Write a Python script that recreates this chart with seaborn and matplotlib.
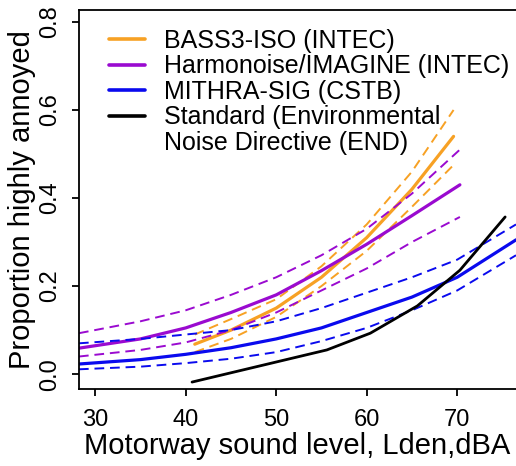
import matplotlib
matplotlib.use("Agg")
import matplotlib.pyplot as plt
import seaborn as sns
import pandas as pd
from matplotlib.lines import Line2D

# BASS3-ISO (INTEC)
bass_x = [41, 45, 50, 55, 60, 65, 69.6]
bass_y = [0.068, 0.10, 0.15, 0.22, 0.31, 0.42, 0.54]
bass_hi = [0.09, 0.125, 0.17, 0.245, 0.34, 0.46, 0.60]
bass_lo = [0.05, 0.08, 0.13, 0.20, 0.28, 0.38, 0.475]

# Harmonoise/IMAGINE (INTEC)
harm_x = [28.2, 35, 40, 45, 50, 55, 60, 65, 70.3]
harm_y = [0.059, 0.08, 0.105, 0.14, 0.18, 0.235, 0.295, 0.36, 0.43]
harm_hi = [0.093, 0.12, 0.145, 0.18, 0.22, 0.27, 0.33, 0.41, 0.51]
harm_lo = [0.04, 0.055, 0.072, 0.10, 0.14, 0.19, 0.24, 0.30, 0.357]

# MITHRA-SIG (CSTB)
mith_x = [28.2, 35, 40, 45, 50, 55, 60, 65, 70, 76.5]
mith_y = [0.023, 0.033, 0.045, 0.06, 0.08, 0.105, 0.14, 0.175, 0.22, 0.305]
mith_hi = [0.07, 0.08, 0.09, 0.10, 0.12, 0.15, 0.185, 0.22, 0.26, 0.34]
mith_lo = [0.011, 0.017, 0.025, 0.035, 0.05, 0.075, 0.105, 0.145, 0.19, 0.27]

# Standard (END)
std_x = [40.7, 55.6, 60.4, 65.6, 70.3, 75.3]
std_y = [-0.018, 0.055, 0.093, 0.155, 0.236, 0.357]

orange = "#F7A124"
purple = "#9A0AD0"
blue = "#0A0AEE"

labels = ["BASS3-ISO (INTEC)", "Harmonoise/IMAGINE (INTEC)",
          "MITHRA-SIG (CSTB)", "Standard (Environmental"]

sns.set_style("ticks")
plt.rcParams['font.family'] = ['Liberation Sans', 'DejaVu Sans']
plt.rcParams['text.color'] = 'black'
plt.rcParams['axes.labelcolor'] = 'black'

fig = plt.figure(figsize=(5.16, 4.66), dpi=100)
ax = fig.add_axes([0.153, 0.165, 0.847, 0.8135])

series = [(bass_x, bass_y, bass_hi, bass_lo, orange),
          (harm_x, harm_y, harm_hi, harm_lo, purple),
          (mith_x, mith_y, mith_hi, mith_lo, blue)]
for xs, ys, hi, lo, col in series:
    sns.lineplot(x=xs, y=ys, color=col, lw=2.3, ax=ax)
    for band in (hi, lo):
        sns.lineplot(x=xs, y=band, color=col, lw=1.4, ax=ax,
                     linestyle=(0, (5, 3)))
sns.lineplot(x=std_x, y=std_y, color="black", lw=2.0, ax=ax)

ax.set_xlim(28.2, 76.5)
ax.set_ylim(-0.034, 0.827)
ax.set_xticks([30, 40, 50, 60, 70])
ax.set_yticks([0.0, 0.2, 0.4, 0.6, 0.8])
ax.set_yticklabels(["0.0", "0.2", "0.4", "0.6", "0.8"], rotation=90, va="center")
ax.tick_params(axis="both", labelsize=17, length=5, width=1.3,
               colors="black", labelcolor="black")
ax.tick_params(axis="x", pad=9)
ax.tick_params(axis="y", pad=8)
ax.set_xlabel("Motorway sound level, Lden,dBA", fontsize=21, labelpad=1)
ax.set_ylabel("Proportion highly annoyed", fontsize=21, labelpad=2)
for s in ["left", "bottom", "top"]:
    ax.spines[s].set_linewidth(1.3)
    ax.spines[s].set_color("black")
ax.spines["right"].set_visible(False)

handles = [Line2D([], [], color=c, lw=2.6) for c in (orange, purple, blue, "black")]
handles.append(Line2D([], [], color="none"))
ax.legend(handles, labels + ["Noise Directive (END)"], loc="upper left",
          bbox_to_anchor=(0.035, 0.99), frameon=False, fontsize=18,
          handlelength=1.45, handletextpad=0.75, labelspacing=0.06,
          borderaxespad=0.2, labelcolor="black")

fig.savefig("out.png", dpi=100)
